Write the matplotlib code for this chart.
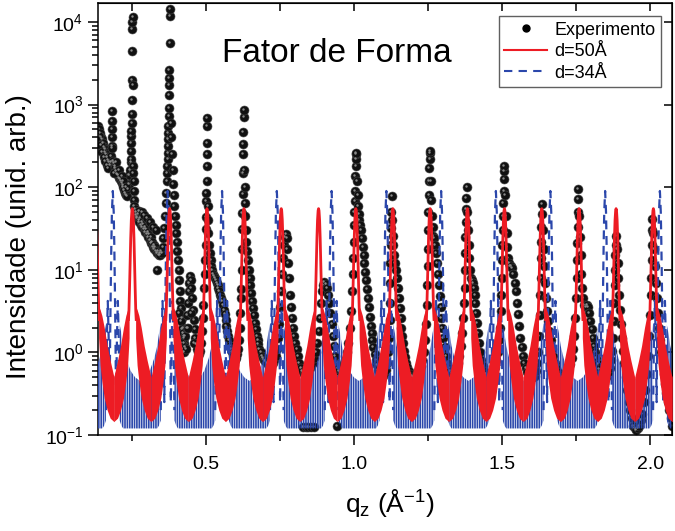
import numpy as np
import matplotlib
matplotlib.use("Agg")
import matplotlib.pyplot as plt
from matplotlib.lines import Line2D
from matplotlib.ticker import MultipleLocator, NullLocator
from matplotlib.transforms import offset_copy

# ---- model curves, values ----
# d=50A: peak positions, one peak profile (offset from centre, intensity), fringe band envelope
red_centers = [0.126, 0.251, 0.377, 0.503, 0.628, 0.754, 0.880, 1.006, 1.131,
               1.257, 1.383, 1.508, 1.634, 1.760, 1.885, 2.011, 2.137]
red_peak_dq = [-0.013, -0.0115, -0.0095, -0.0075, -0.0055, -0.0035, -0.0015, 0.0,
               0.0015, 0.0035, 0.0055, 0.0075, 0.0095, 0.0115, 0.013]
red_peak_i = [2.5, 3.2, 6, 12, 24, 40, 52, 55, 52, 40, 24, 12, 6, 3.2, 2.5]
red_band_dq = [0.011, 0.016, 0.022, 0.030, 0.040, 0.050, 0.063]
red_band_hi = [3.6, 3.3, 2.8, 2.0, 1.2, 0.8, 0.5]
red_band_lo = [1.5, 0.7, 0.45, 0.28, 0.2, 0.16, 0.145]

# d=34A
blue_centers = [0.185, 0.370, 0.554, 0.739, 0.924, 1.109, 1.294, 1.479, 1.663,
                1.848, 2.033]
blue_peak_dq = [-0.023, -0.020, -0.017, -0.014, -0.011, -0.009, -0.007, -0.005,
                -0.003, 0.0, 0.003, 0.005, 0.007, 0.009, 0.011, 0.014, 0.017,
                0.020, 0.023]
blue_peak_i = [0.2, 1.5, 4.2, 1.5, 0.25, 1.5, 6, 20, 50, 90, 50, 20, 6, 1.5,
               0.25, 1.5, 4.2, 1.5, 0.2]
blue_band_dq = [0.023, 0.029, 0.035, 0.045, 0.060, 0.075, 0.093]
blue_band_hi = [2.2, 1.7, 1.2, 0.85, 0.6, 0.5, 0.45]
blue_band_lo = [0.15, 0.13, 0.12, 0.12, 0.12, 0.12, 0.12]

# ---- experiment ----
q_exp = [
    0.136, 0.139, 0.142, 0.145, 0.148, 0.151, 0.154, 0.157, 0.160, 0.163, 0.166, 0.169, 0.172, 0.175, 0.178,
    0.140, 0.145, 0.150, 0.155, 0.160, 0.165, 0.170,
    0.180, 0.181, 0.181, 0.182, 0.182, 0.182, 0.183,
    0.185, 0.188, 0.191, 0.194, 0.197, 0.200, 0.203, 0.206, 0.209, 0.212, 0.215, 0.218, 0.221, 0.224,
    0.227, 0.230, 0.232, 0.235, 0.238, 0.241, 0.243,
    0.190, 0.195, 0.205, 0.215, 0.220, 0.228,
    0.245, 0.246, 0.247, 0.247, 0.248, 0.248, 0.249, 0.249, 0.250, 0.250, 0.251, 0.251, 0.251, 0.252,
    0.253, 0.254, 0.254, 0.255, 0.256, 0.257, 0.258,
    0.260, 0.262, 0.264, 0.266, 0.268, 0.270, 0.272, 0.275, 0.278, 0.280, 0.283, 0.285, 0.288, 0.290,
    0.293, 0.295, 0.298, 0.300, 0.303, 0.305, 0.308, 0.310, 0.313, 0.315, 0.318, 0.320, 0.323, 0.325,
    0.328, 0.330, 0.333, 0.335, 0.338, 0.340, 0.343, 0.345, 0.348, 0.350, 0.353, 0.356, 0.359, 0.362, 0.364,
    0.272, 0.282, 0.292, 0.302, 0.312, 0.322, 0.332,
    0.366, 0.367, 0.368, 0.369, 0.370, 0.371, 0.372, 0.372, 0.373, 0.373, 0.374, 0.374, 0.375, 0.375,
    0.376, 0.376, 0.377, 0.377, 0.378,
    0.381, 0.383, 0.385, 0.387, 0.389, 0.391, 0.393, 0.395, 0.397, 0.399, 0.401, 0.403, 0.405, 0.407,
    0.409, 0.411, 0.413, 0.415, 0.418, 0.421, 0.424, 0.427, 0.430,
    0.410, 0.414, 0.418, 0.422, 0.426, 0.430, 0.434, 0.437, 0.440, 0.442, 0.444, 0.446, 0.448, 0.450,
    0.452, 0.455, 0.458, 0.461, 0.464, 0.467, 0.470, 0.473, 0.476, 0.479, 0.482, 0.485, 0.488, 0.491,
    0.494, 0.496,
    0.415, 0.420, 0.425, 0.432, 0.440, 0.450, 0.460,
    0.498, 0.499, 0.500, 0.500, 0.501, 0.501, 0.502, 0.502, 0.503, 0.503, 0.504, 0.504,
    0.506, 0.507, 0.508, 0.510, 0.512, 0.515, 0.518, 0.521, 0.524, 0.527, 0.530, 0.533, 0.536, 0.539,
    0.542, 0.545, 0.548, 0.551, 0.554, 0.557, 0.560, 0.563, 0.566, 0.569, 0.572, 0.575, 0.578, 0.581,
    0.584, 0.587, 0.590, 0.593, 0.596, 0.599, 0.602, 0.605, 0.608, 0.611, 0.614, 0.616, 0.618,
    0.619, 0.620, 0.621, 0.622, 0.623, 0.624, 0.625, 0.625, 0.626, 0.626, 0.627, 0.627,
    0.629, 0.630, 0.631, 0.632, 0.634, 0.636, 0.638, 0.641, 0.644, 0.647, 0.650, 0.653, 0.656, 0.659,
    0.662, 0.665, 0.668, 0.671, 0.674, 0.677, 0.680, 0.684, 0.688, 0.692, 0.696, 0.700, 0.705, 0.710,
    0.715, 0.720, 0.725, 0.730, 0.735, 0.740, 0.744, 0.748, 0.751, 0.754, 0.757, 0.760, 0.763, 0.766,
    0.769, 0.772, 0.775, 0.778, 0.781, 0.784, 0.787, 0.790, 0.794, 0.798, 0.802, 0.806, 0.810, 0.815,
    0.820, 0.825, 0.830, 0.835,
    0.826, 0.836, 0.846, 0.856, 0.866, 0.943,
    0.840, 0.845, 0.850, 0.855, 0.860, 0.865, 0.870, 0.875, 0.880, 0.884, 0.888, 0.892, 0.896, 0.900,
    0.904, 0.908, 0.912, 0.916, 0.920, 0.924, 0.928, 0.932, 0.936, 0.940, 0.945, 0.950, 0.955, 0.960,
    0.965, 0.970, 0.975, 0.980, 0.985, 0.989, 0.993, 0.996,
    0.998, 0.999, 1.000, 1.001, 1.002, 1.003, 1.004, 1.005, 1.006, 1.007, 1.007,
    1.010, 1.012, 1.014, 1.016, 1.018, 1.020, 1.023, 1.026, 1.029, 1.032, 1.035, 1.038, 1.041, 1.044,
    1.047, 1.050, 1.053, 1.056, 1.059, 1.062, 1.065, 1.069, 1.073, 1.077, 1.082, 1.087, 1.092, 1.097,
    1.102, 1.107, 1.111, 1.115, 1.118, 1.120,
    1.121, 1.122, 1.123, 1.124, 1.125, 1.126, 1.127,
    1.129, 1.131, 1.133, 1.136, 1.139, 1.142, 1.145, 1.148, 1.151, 1.154, 1.157, 1.160, 1.163, 1.166,
    1.169, 1.172, 1.176, 1.180, 1.185, 1.190, 1.195, 1.200, 1.205, 1.210, 1.215, 1.220, 1.225, 1.230,
    1.235, 1.239, 1.242, 1.245,
    1.247, 1.248, 1.249, 1.250, 1.251, 1.252, 1.253, 1.254, 1.255, 1.256, 1.256,
    1.259, 1.261, 1.263, 1.265, 1.268, 1.271, 1.274, 1.277, 1.280, 1.283, 1.286, 1.289, 1.292, 1.295,
    1.298, 1.302, 1.306, 1.310, 1.315, 1.320, 1.325, 1.330, 1.335, 1.340, 1.345, 1.350, 1.355, 1.360,
    1.364, 1.368, 1.371,
    1.373, 1.374, 1.375, 1.376, 1.377, 1.378, 1.379, 1.380,
    1.383, 1.385, 1.387, 1.389, 1.392, 1.395, 1.398, 1.401, 1.404, 1.407, 1.410, 1.413, 1.416, 1.419,
    1.422, 1.426, 1.430, 1.435, 1.440, 1.445, 1.450, 1.455, 1.460, 1.465, 1.470, 1.475, 1.480, 1.485,
    1.489, 1.492, 1.495, 1.497,
    1.499, 1.500, 1.501, 1.502, 1.503, 1.504, 1.505, 1.506, 1.507, 1.508,
    1.511, 1.513, 1.515, 1.517, 1.520, 1.523, 1.526, 1.530, 1.534, 1.538, 1.542, 1.546, 1.550, 1.554,
    1.558, 1.562, 1.566, 1.570, 1.575, 1.580, 1.585, 1.590, 1.595, 1.600, 1.605, 1.610, 1.615, 1.619,
    1.622, 1.625, 1.627, 1.629,
    1.630, 1.631, 1.632, 1.633, 1.634, 1.635,
    1.638, 1.640, 1.643, 1.646, 1.649, 1.652, 1.656, 1.660, 1.664, 1.668, 1.672, 1.677, 1.682, 1.688,
    1.694, 1.700, 1.706, 1.712, 1.718, 1.724, 1.730, 1.735, 1.740, 1.744, 1.747, 1.750,
    1.752, 1.753, 1.754, 1.755, 1.756, 1.757, 1.758,
    1.761, 1.763, 1.765, 1.768, 1.771, 1.774, 1.778, 1.782, 1.786, 1.790, 1.794, 1.798, 1.802, 1.806,
    1.810, 1.814, 1.818, 1.823, 1.828, 1.833, 1.838, 1.843, 1.848, 1.853, 1.858, 1.863, 1.867, 1.871,
    1.874, 1.877, 1.879,
    1.881, 1.882, 1.883, 1.884, 1.885,
    1.888, 1.890, 1.892, 1.895, 1.898, 1.901, 1.905, 1.909, 1.913, 1.918, 1.923, 1.928, 1.933, 1.938,
    1.943, 1.948, 1.953, 1.958, 1.963, 1.968, 1.973, 1.978, 1.983, 1.988, 1.992, 1.996, 1.999, 2.002,
    2.004, 2.005, 2.006, 2.007, 2.008,
    2.011, 2.013, 2.016, 2.019, 2.022, 2.026, 2.030, 2.034, 2.038, 2.042, 2.046, 2.050, 2.055, 2.060,
    2.065, 2.070, 2.074,
]
i_exp = [
    550, 500, 450, 400, 380, 340, 310, 290, 270, 250, 230, 215, 200, 185, 200,
    420, 320, 265, 235, 205, 185, 170,
    240, 315, 400, 500, 630, 830, 300,
    210, 195, 180, 170, 155, 145, 140, 130, 125, 118, 112, 106, 100, 92,
    86, 80, 79, 95, 110, 140, 160,
    150, 200, 160, 135, 120, 100,
    200, 218, 275, 345, 415, 475, 600, 760, 1150, 2000, 4400, 8300, 10000, 11500,
    1740, 180, 150, 120, 90, 70, 60,
    55, 50, 46, 44, 42, 47, 40, 38, 42, 35, 38, 33, 36, 31,
    33, 29, 31, 27, 29, 25, 27, 23, 25, 21, 22, 19, 20, 18,
    19, 17, 10, 16, 17, 15, 16, 15, 17, 16, 19, 24, 32, 45, 65,
    52, 50, 46, 42, 38, 33, 30,
    86, 120, 150, 180, 218, 260, 315, 380, 455, 550, 720, 910, 1320, 1740,
    2100, 2640, 5500, 11700, 14500,
    600, 400, 250, 160, 110, 80, 60, 45, 35, 28, 22, 17, 13, 10,
    7.5, 5.5, 4.2, 3.4, 2.6, 2.0, 1.6, 1.3, 1.15,
    3.0, 2.4, 1.9, 1.7, 1.5, 1.6, 2.0, 2.8, 4.0, 5.5, 7.0, 8.5, 7.5, 6.0,
    4.5, 3.3, 2.5, 1.9, 1.5, 1.25, 1.1, 1.0, 0.95, 1.05, 1.3, 1.8, 2.6, 3.8,
    6.0, 9.0,
    1.3, 1.1, 1.0, 1.1, 2.0, 3.0, 1.3,
    13, 20, 31, 44, 68, 86, 120, 180, 250, 345, 550, 690,
    60, 40, 28, 20, 16, 13, 11, 10, 9, 8.5, 8, 7.5, 7, 6.5,
    6, 5.5, 5, 4.6, 4.2, 3.8, 3.3, 2.9, 2.5, 2.1, 1.8, 1.6, 1.4, 1.2,
    1.1, 1.0, 0.9, 0.85, 0.8, 0.8, 0.85, 0.95, 1.1, 1.4, 2.0, 3.0, 4.5,
    5.9, 10, 18, 31, 49, 83, 150, 250, 330, 460, 700, 870,
    160, 100, 65, 45, 30, 22, 17, 13, 10, 8, 6.5, 5.2, 4.2, 3.4,
    2.8, 2.3, 1.9, 1.6, 1.4, 1.25, 1.1, 1.0, 0.9, 0.85, 0.8, 0.78, 0.75, 0.72,
    0.7, 0.72, 0.75, 0.8, 0.9, 1.1, 1.5, 2.2, 3.5, 5.5, 9, 14, 20, 25,
    27, 24, 18, 12, 8, 5, 3.5, 2.6, 2.0, 1.6, 1.3, 1.1, 0.9, 0.75,
    0.65, 0.6, 0.55, 0.55,
    0.125, 0.125, 0.125, 0.125, 0.125, 0.127,
    0.6, 0.62, 0.65, 0.7, 0.75, 0.85, 1.0, 1.3, 1.8, 2.6, 4, 5.5, 6.5, 7.1,
    6.8, 6, 5, 4, 3, 2.2, 1.6, 1.2, 0.9, 0.75, 0.65, 0.6, 0.6, 0.62,
    0.7, 0.8, 1.0, 1.3, 2.0, 3.2, 5.5, 9,
    14, 22, 35, 50, 69, 91, 138, 180, 218, 250, 263,
    120, 80, 60, 48, 40, 35, 30, 24, 19, 15, 12, 9.5, 7.5, 5.8,
    4.5, 3.5, 2.7, 2.1, 1.7, 1.4, 1.15, 0.95, 0.8, 0.7, 0.62, 0.56, 0.53, 0.52,
    0.55, 0.62, 0.75, 1.0, 1.5, 2.5,
    4, 7, 12, 20, 32, 50, 79,
    40, 26, 20, 15, 12, 10, 8, 6, 4.5, 3.4, 2.6, 2.0, 1.6, 1.3,
    1.05, 0.88, 0.75, 0.66, 0.6, 0.55, 0.52, 0.5, 0.5, 0.52, 0.56, 0.6, 0.68, 0.8,
    1.0, 1.4, 2.2, 3.8,
    6.5, 11, 18, 30, 50, 80, 120, 170, 220, 263, 275,
    120, 70, 45, 33, 26, 24, 20, 16, 12, 9, 6.5, 4.8, 3.5, 2.6,
    2.0, 1.5, 1.15, 0.9, 0.75, 0.65, 0.6, 0.57, 0.57, 0.6, 0.65, 0.75, 0.9, 1.2,
    1.7, 2.6, 4,
    6, 10, 16, 25, 38, 55, 75, 100,
    50, 30, 20, 14, 10, 8, 7.5, 7, 6, 5, 4, 3, 2.3, 1.7,
    1.3, 1.0, 0.8, 0.68, 0.6, 0.55, 0.52, 0.5, 0.5, 0.52, 0.58, 0.66, 0.8, 1.0,
    1.4, 2.0, 3.2, 5,
    8, 13, 20, 30, 45, 65, 90, 125, 155, 180,
    80, 45, 28, 19, 14, 12, 11, 11, 10.5, 9, 7, 5.5, 4, 2.9,
    2.1, 1.5, 1.15, 0.9, 0.75, 0.65, 0.58, 0.55, 0.52, 0.5, 0.5, 0.52, 0.6, 0.75,
    1.0, 1.6, 2.8, 5,
    8, 14, 22, 33, 48, 63,
    30, 18, 11, 7, 4.5, 3.2, 2.4, 1.8, 1.4, 1.1, 0.9, 0.75, 0.65, 0.58,
    0.53, 0.5, 0.5, 0.52, 0.56, 0.62, 0.72, 0.85, 1.1, 1.6, 2.6, 4.5,
    8, 13, 21, 33, 50, 72, 95,
    45, 25, 15, 9, 6, 4.5, 3.8, 3.5, 3.7, 3.5, 3.0, 2.4, 1.9, 1.5,
    1.2, 1.0, 0.85, 0.72, 0.63, 0.57, 0.53, 0.5, 0.5, 0.52, 0.57, 0.65, 0.8, 1.05,
    1.5, 2.4, 4,
    6.5, 10, 15, 20, 26,
    18, 12, 8, 5, 3.3, 2.2, 1.5, 1.05, 0.75, 0.5, 0.35, 0.25, 0.2, 0.16,
    0.13, 0.12, 0.115, 0.12, 0.13, 0.15, 0.18, 0.25, 0.35, 0.55, 0.9, 1.6, 2.8, 5,
    8, 13, 20, 30, 41,
    28, 18, 11, 7, 4.5, 3, 2, 1.4, 1.0, 0.75, 0.55, 0.42, 0.32, 0.25,
    0.2, 0.16, 0.13,
]

red = "#ed1c24"
blue = "#2b47ab"

plt.rcParams["font.family"] = ["Liberation Sans", "DejaVu Sans"]
plt.rcParams["mathtext.default"] = "regular"
plt.rcParams["hatch.linewidth"] = 1.2

fig = plt.figure(figsize=(6.75, 5.31), dpi=100)
ax = fig.add_axes([0.1452, 0.1808, 0.8504, 0.8136])

# experiment: dark spheres with a small grey glint
ax.scatter(q_exp, i_exp, s=42, c="#111111", edgecolors="#444444", linewidths=0.4, zorder=2)
glint = offset_copy(ax.transData, fig=fig, x=-1.0, y=1.0, units="dots")
ax.scatter(q_exp, i_exp, s=3, c="#8a8a8a", linewidths=0, transform=glint, zorder=2)

# d=34A
for c in blue_centers:
    for sgn in (-1, 1):
        ax.fill_between(c + sgn * np.array(blue_band_dq), blue_band_lo, blue_band_hi,
                        facecolor="none", edgecolor=blue, hatch="|" * 7, linewidth=0, zorder=3)
    ax.plot(c + np.array(blue_peak_dq), blue_peak_i, color=blue, lw=1.6,
            ls=(0, (4, 3)), zorder=3)

# d=50A
for c in red_centers:
    for sgn in (-1, 1):
        ax.fill_between(c + sgn * np.array(red_band_dq), red_band_lo, red_band_hi,
                        color=red, linewidth=0, zorder=4)
    ax.plot(c + np.array(red_peak_dq), red_peak_i, color=red, lw=2.0, zorder=4)

ax.set_yscale("log")
ax.set_xlim(0.135, 2.074)
ax.set_ylim(0.1, 1.7e4)
ax.set_xticks([0.5, 1.0, 1.5, 2.0])
ax.xaxis.set_minor_locator(MultipleLocator(0.25))
ax.tick_params(which="both", direction="out", top=False, right=False,
               labelsize=14, width=1.1)
ax.tick_params(which="major", length=7)
ax.tick_params(which="minor", length=4)
ax.tick_params(axis="x", which="major", pad=8)
for s in ax.spines.values():
    s.set_linewidth(1.1)

secx = ax.secondary_xaxis("top")
secx.set_xticks([0.5, 1.0, 1.5, 2.0])
secx.xaxis.set_minor_locator(MultipleLocator(0.25))
secx.tick_params(which="both", direction="in", length=6, width=1.1, labeltop=False)
secy = ax.secondary_yaxis("right")
secy.yaxis.set_minor_locator(NullLocator())
secy.tick_params(which="major", direction="in", length=6, width=1.1, labelright=False)

ax.set_ylabel("Intensidade (unid. arb.)", fontsize=20)
ax.yaxis.set_label_coords(-0.115, 0.46)
ax.set_xlabel("q$_z$ (Å$^{-1}$)", fontsize=19)
ax.xaxis.set_label_coords(0.509, -0.12)

ax.text(0.416, 0.882, "Fator de Forma", transform=ax.transAxes,
        ha="center", va="center", fontsize=24)

handles = [
    Line2D([], [], marker="o", ls="none", color="black", markersize=5),
    Line2D([], [], color=red, lw=1.5),
    Line2D([], [], color=blue, lw=1.5, ls=(0, (4, 3))),
]
leg = ax.legend(handles, ["Experimento", "d=50Å", "d=34Å"], loc="upper right",
                bbox_to_anchor=(0.981, 0.969), fontsize=13, fancybox=False,
                edgecolor="#606060", framealpha=1, handlelength=2.4,
                labelspacing=0.25, borderpad=0.3, handletextpad=0.4, borderaxespad=0)
leg.get_frame().set_linewidth(1.0)
leg.set_zorder(10)

fig.savefig("out.png", dpi=100)
